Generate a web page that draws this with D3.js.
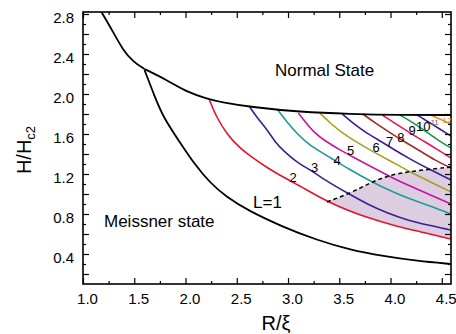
<!DOCTYPE html>
<html><head><meta charset="utf-8">
<script src="https://cdn.jsdelivr.net/npm/d3@7"></script>
<style>
html,body{margin:0;padding:0;background:#fff;}
svg{display:block;font-family:"Liberation Sans",Arial,sans-serif;}
</style></head>
<body>
<svg id="c" width="456" height="334"></svg>
<script>
// ---- data (R/xi, H/Hc2) ----
const normalBoundary = [[1.18,2.82],[1.30,2.61],[1.39,2.44],[1.49,2.32],[1.60,2.25],[1.82,2.14],[2.01,2.02],[2.22,1.95],[2.34,1.92],[2.63,1.87],[3.12,1.82],[3.60,1.80],[4.10,1.79],[4.59,1.79]];
const meissnerBoundary = [[1.60,2.24],[1.69,2.00],[1.78,1.77],[1.95,1.51],[2.08,1.31],[2.24,1.11],[2.40,0.97],[2.60,0.84],[2.95,0.67],[3.28,0.54],[3.61,0.44],[3.93,0.38],[4.26,0.33],[4.59,0.30]];
const curveL1 = [[2.23,1.95],[2.30,1.77],[2.41,1.59],[2.53,1.46],[2.63,1.38],[2.80,1.26],[2.95,1.17],[3.12,1.08],[3.38,0.92],[3.77,0.76],[4.09,0.67],[4.26,0.63],[4.59,0.55]];
const curveL2 = [[2.62,1.88],[2.70,1.76],[2.80,1.64],[2.88,1.51],[2.95,1.44],[3.08,1.32],[3.22,1.24],[3.39,1.12],[3.58,1.01],[3.77,0.90],[3.97,0.81],[4.16,0.74],[4.36,0.69],[4.59,0.64]];
const curveL3 = [[2.90,1.84],[2.99,1.72],[3.09,1.60],[3.22,1.48],[3.34,1.41],[3.48,1.32],[3.61,1.24],[3.80,1.13],[4.02,1.02],[4.19,0.95],[4.39,0.88],[4.59,0.80]];
const curveL4 = [[3.10,1.81],[3.17,1.72],[3.25,1.62],[3.36,1.53],[3.51,1.44],[3.65,1.36],[3.80,1.28],[4.00,1.17],[4.19,1.08],[4.39,0.99],[4.59,0.90]];
const curveL5 = [[3.31,1.81],[3.41,1.71],[3.53,1.61],[3.65,1.53],[3.80,1.44],[4.00,1.33],[4.19,1.22],[4.39,1.12],[4.59,1.02]];
const curveL6 = [[3.53,1.80],[3.62,1.72],[3.75,1.62],[3.90,1.53],[4.04,1.44],[4.19,1.35],[4.39,1.24],[4.59,1.14]];
const curveL7 = [[3.73,1.80],[3.85,1.71],[4.00,1.61],[4.14,1.52],[4.29,1.43],[4.43,1.34],[4.59,1.26]];
const curveL8 = [[3.92,1.79],[4.04,1.71],[4.19,1.61],[4.34,1.52],[4.48,1.43],[4.59,1.36]];
const curveL9 = [[4.09,1.79],[4.21,1.72],[4.34,1.63],[4.46,1.54],[4.59,1.46]];
const curveL10 = [[4.26,1.79],[4.37,1.72],[4.48,1.65],[4.59,1.58]];
const curveL11 = [[4.41,1.78],[4.48,1.75],[4.59,1.70]];
const dashedBoundary = [[3.38,0.92],[3.61,1.01],[3.80,1.11],[3.96,1.18],[4.17,1.225],[4.59,1.27]];
const seriesColors = ["#e8112d","#3b1f96","#1e9a9a","#c8159e","#a8a020","#3b1f96","#a52a2a","#e8175d","#1a9a4a","#3b1f96","#f08a24"];
const regionLabels = [["2",3.05,1.17],["3",3.26,1.27],["4",3.48,1.34],["5",3.61,1.44],["6",3.86,1.47],["7",3.99,1.53],["8",4.10,1.57],["9",4.21,1.64],["10",4.32,1.68]];
const smallLabels = [["11",4.43,1.72],["12",4.55,1.735]];
const xMajor = [1.0,1.5,2.0,2.5,3.0,3.5,4.0,4.5];
const xMinor = [1.25,1.75,2.25,2.75,3.25,3.75,4.25];
const yLabels = [0.4,0.8,1.2,1.6,2.0,2.4,2.8];
const yMid = [0.2,0.6,1.0,1.4,1.8,2.2,2.6];
const yMinor = [0.3,0.5,0.7,0.9,1.1,1.3,1.5,1.7,1.9,2.1,2.3,2.5,2.7];

const svg = d3.select("#c");
const L = 83, R = 451, T = 12, B = 284;
const x = d3.scaleLinear().domain([1.0, 4.59]).range([L, R]);
const y = d3.scaleLinear().domain([0.1, 2.82]).range([B, T]);
const line = d3.line().x(d => x(d[0])).y(d => y(d[1])).curve(d3.curveBasis);

svg.append("clipPath").attr("id","pc").append("rect")
  .attr("x",L).attr("y",T).attr("width",R-L).attr("height",B-T);
const g = svg.append("g").attr("clip-path","url(#pc)");

// shaded region: above L1 curve, below dashed line
const redPart = curveL1.filter(d => d[0] >= 3.38);
const topPath = line(dashedBoundary);
const botPath = line(redPart.slice().reverse());
g.append("path")
  .attr("d", topPath + "L" + botPath.slice(1) + "Z")
  .attr("fill","#dccde0").attr("stroke","none");

const curves = [curveL1,curveL2,curveL3,curveL4,curveL5,curveL6,curveL7,curveL8,curveL9,curveL10,curveL11];
curves.forEach((c,i) => {
  g.append("path").attr("d", line(c)).attr("fill","none")
    .attr("stroke", seriesColors[i]).attr("stroke-width",1.6);
});
g.append("path").attr("d", line(dashedBoundary)).attr("fill","none")
  .attr("stroke","#000").attr("stroke-width",1.5).attr("stroke-dasharray","4,3");
// normal-state boundary drawn in two pieces meeting at the kink (index 4)
g.append("path").attr("d", line(normalBoundary.slice(0,5))).attr("fill","none")
  .attr("stroke","#000").attr("stroke-width",1.8);
g.append("path").attr("d", line(normalBoundary.slice(4))).attr("fill","none")
  .attr("stroke","#000").attr("stroke-width",1.8);
g.append("path").attr("d", line(meissnerBoundary)).attr("fill","none")
  .attr("stroke","#000").attr("stroke-width",1.8);

// axes (ticks inward)
function addAxis(gen, tr, vals, size, labels){
  const a = svg.append("g").attr("transform", tr)
    .call(gen.tickValues(vals).tickSize(size).tickSizeOuter(0).tickFormat(labels ? d3.format(".1f") : ""));
  a.select(".domain").remove();
  a.selectAll("line").attr("stroke","#000").attr("stroke-width",1.2);
  return a;
}
const xb = addAxis(d3.axisBottom(x).tickPadding(9), `translate(0,${B})`, xMajor, -6, true);
xb.selectAll("text").attr("font-size",15).attr("fill","#000").attr("dx",4).attr("font-family","Liberation Sans, Arial");
addAxis(d3.axisBottom(x), `translate(0,${B})`, xMinor, -3, false);
addAxis(d3.axisTop(x), `translate(0,${T})`, xMajor, -6, false);
addAxis(d3.axisTop(x), `translate(0,${T})`, xMinor, -3, false);
const yl = addAxis(d3.axisLeft(y).tickPadding(9), `translate(${L},0)`, yLabels, -6, true);
yl.selectAll("text").attr("font-size",15).attr("fill","#000").attr("dy","0.55em").attr("font-family","Liberation Sans, Arial");
addAxis(d3.axisLeft(y), `translate(${L},0)`, yMid, -6, false);
addAxis(d3.axisLeft(y), `translate(${L},0)`, yMinor, -3, false);
addAxis(d3.axisRight(y), `translate(${R},0)`, yLabels.concat(yMid), -6, false);
addAxis(d3.axisRight(y), `translate(${R},0)`, yMinor, -3, false);

svg.append("rect").attr("x",L).attr("y",T).attr("width",R-L).attr("height",B-T)
  .attr("fill","none").attr("stroke","#000").attr("stroke-width",1.6);

// texts
svg.append("text").attr("x",275).attr("y",76).attr("font-size",17).text("Normal State");
svg.append("text").attr("x",104).attr("y",227).attr("font-size",17).text("Meissner state");
svg.append("text").attr("x",253).attr("y",208).attr("font-size",17).text("L=1");
regionLabels.forEach(r => {
  svg.append("text").attr("x",x(r[1])).attr("y",y(r[2])).attr("font-size",13)
    .attr("text-anchor","middle").attr("dominant-baseline","central").text(r[0]);
});
svg.append("text").attr("x",x(smallLabels[0][1])).attr("y",y(smallLabels[0][2])).attr("font-size",8).attr("fill","#666")
  .attr("text-anchor","middle").attr("dominant-baseline","central").text(smallLabels[0][0]);
svg.append("text").attr("x",x(smallLabels[1][1])).attr("y",y(smallLabels[1][2])).attr("font-size",8).attr("fill","#c98a4a")
  .attr("text-anchor","middle").attr("dominant-baseline","central").text(smallLabels[1][0]);

// axis titles
const yt = svg.append("text").attr("transform","translate(31,150) rotate(-90)")
  .attr("text-anchor","middle").attr("font-size",20);
yt.append("tspan").text("H/H");
yt.append("tspan").attr("font-size",13).attr("dy",4).text("c2");
svg.append("text").attr("x",276).attr("y",330).attr("text-anchor","middle").attr("font-size",20).text("R/\u03BE");
</script>
</body></html>
